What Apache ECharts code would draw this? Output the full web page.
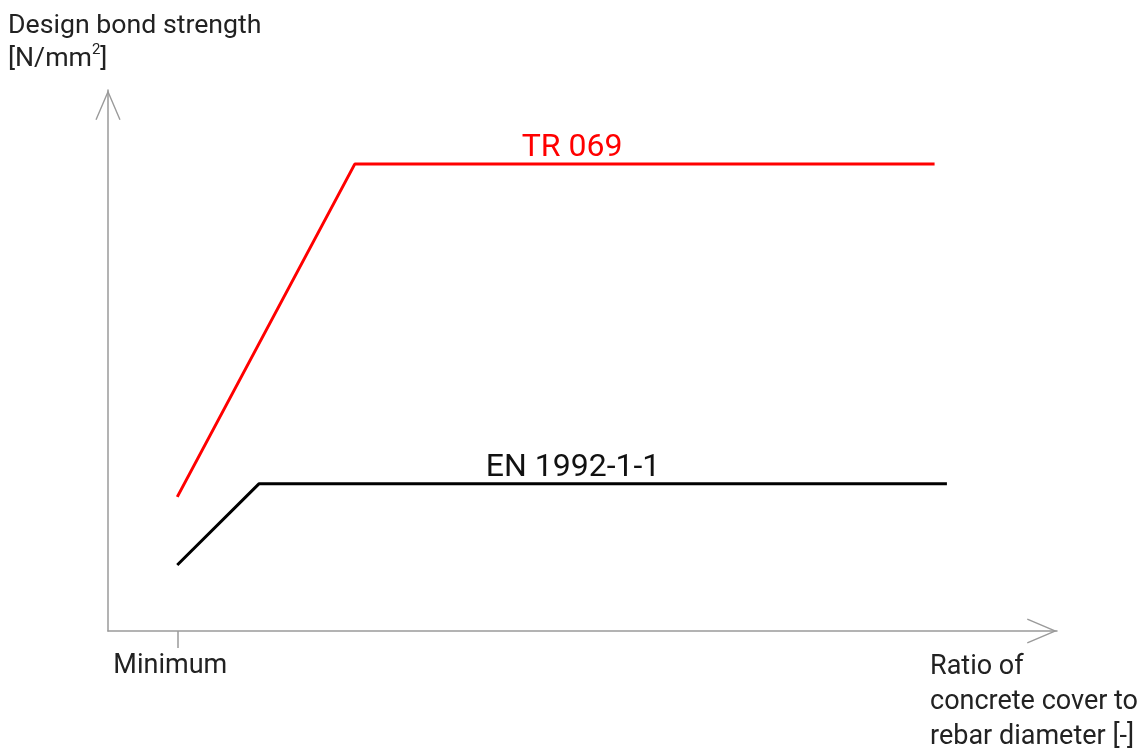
<!DOCTYPE html>
<html>
<head>
<meta charset="utf-8">
<script src="https://cdn.jsdelivr.net/npm/echarts@6/dist/echarts.min.js"></script>
<style>
html,body{margin:0;padding:0;background:#fff;}
#chart{width:1139px;height:752px;}
</style>
</head>
<body>
<div id="chart"></div>
<script>
// Schematic data (arbitrary units: x 0..100, y 0..100)
const tr069 = [[7.3, 24.8], [26.0, 86.3], [87.1, 86.3]];
const en1992 = [[7.3, 12.2], [15.9, 27.2], [88.4, 27.2]];
const seriesNames = ['TR 069', 'EN 1992-1-1'];
const labelAnchors = [[48.9, 86.3], [49.0, 27.2]];
const tickValues = [7.3];
const tickLabels = ['Minimum'];
const yAxisTitle = 'Design bond strength\n[N/mm{sup|2}]';
const xAxisTitle = 'Ratio of\nconcrete cover to\nrebar diameter [-]';

const FONT = 'Roboto';
const axisGray = '#9a9a9a';
const chevron = 'path://M0,-1.77 L12.64,27.72 L11.36,28.28 L0,1.77 L-11.36,28.28 L-12.64,27.72 Z';

const chart = echarts.init(document.getElementById('chart'), null, {renderer: 'canvas'});
const axisLineCommon = {
  show: true,
  lineStyle: {color: axisGray, width: 1.5},
  symbol: ['none', chevron],
  symbolSize: [25.3, 30],
  symbolOffset: [0, -15]
};
chart.setOption({
  animation: false,
  backgroundColor: '#fff',
  title: [
    {
      text: yAxisTitle, left: 8, top: 10, padding: 0,
      textStyle: {
        fontFamily: FONT, fontSize: 26.7, fontWeight: 'normal', color: '#222', lineHeight: 33,
        rich: {sup: {fontFamily: FONT, fontSize: 15, color: '#222', verticalAlign: 'top', lineHeight: 33, padding: [0, 0, 8, 0]}}
      }
    },
    {
      text: xAxisTitle, left: 930, top: 650, padding: 0,
      textStyle: {fontFamily: FONT, fontSize: 27, fontWeight: 'normal', color: '#222', lineHeight: 35}
    }
  ],
  grid: {left: 108, right: 82, top: 90, bottom: 121, containLabel: false},
  xAxis: {
    type: 'value', min: 0, max: 100,
    splitLine: {show: false},
    axisLine: axisLineCommon,
    axisTick: {show: true, customValues: tickValues, length: 17, lineStyle: {color: axisGray, width: 1.5}},
    axisLabel: {
      show: true, customValues: tickValues, margin: 22,
      formatter: function (v) { const i = tickValues.indexOf(v); return i >= 0 ? tickLabels[i] : ''; },
      fontFamily: FONT, fontSize: 27, color: '#222', padding: [0, 14, 0, 0]
    }
  },
  yAxis: {
    type: 'value', min: 0, max: 100,
    splitLine: {show: false},
    axisLine: axisLineCommon,
    axisTick: {show: false},
    axisLabel: {show: false}
  },
  series: [
    {
      name: seriesNames[0], type: 'line', data: tr069,
      symbol: 'none', lineStyle: {color: '#ff0000', width: 3}, z: 3,
      markPoint: {
        symbol: 'circle', symbolSize: 0,
        data: [{coord: labelAnchors[0], value: seriesNames[0]}],
        label: {show: true, position: 'top', distance: 0, formatter: seriesNames[0], fontFamily: FONT, fontSize: 32, color: '#ff0000'}
      }
    },
    {
      name: seriesNames[1], type: 'line', data: en1992,
      symbol: 'none', lineStyle: {color: '#000000', width: 3}, z: 3,
      markPoint: {
        symbol: 'circle', symbolSize: 0,
        data: [{coord: labelAnchors[1], value: seriesNames[1]}],
        label: {show: true, position: 'top', distance: 0, formatter: seriesNames[1], fontFamily: FONT, fontSize: 32, color: '#111'}
      }
    }
  ]
});
</script>
</body>
</html>
